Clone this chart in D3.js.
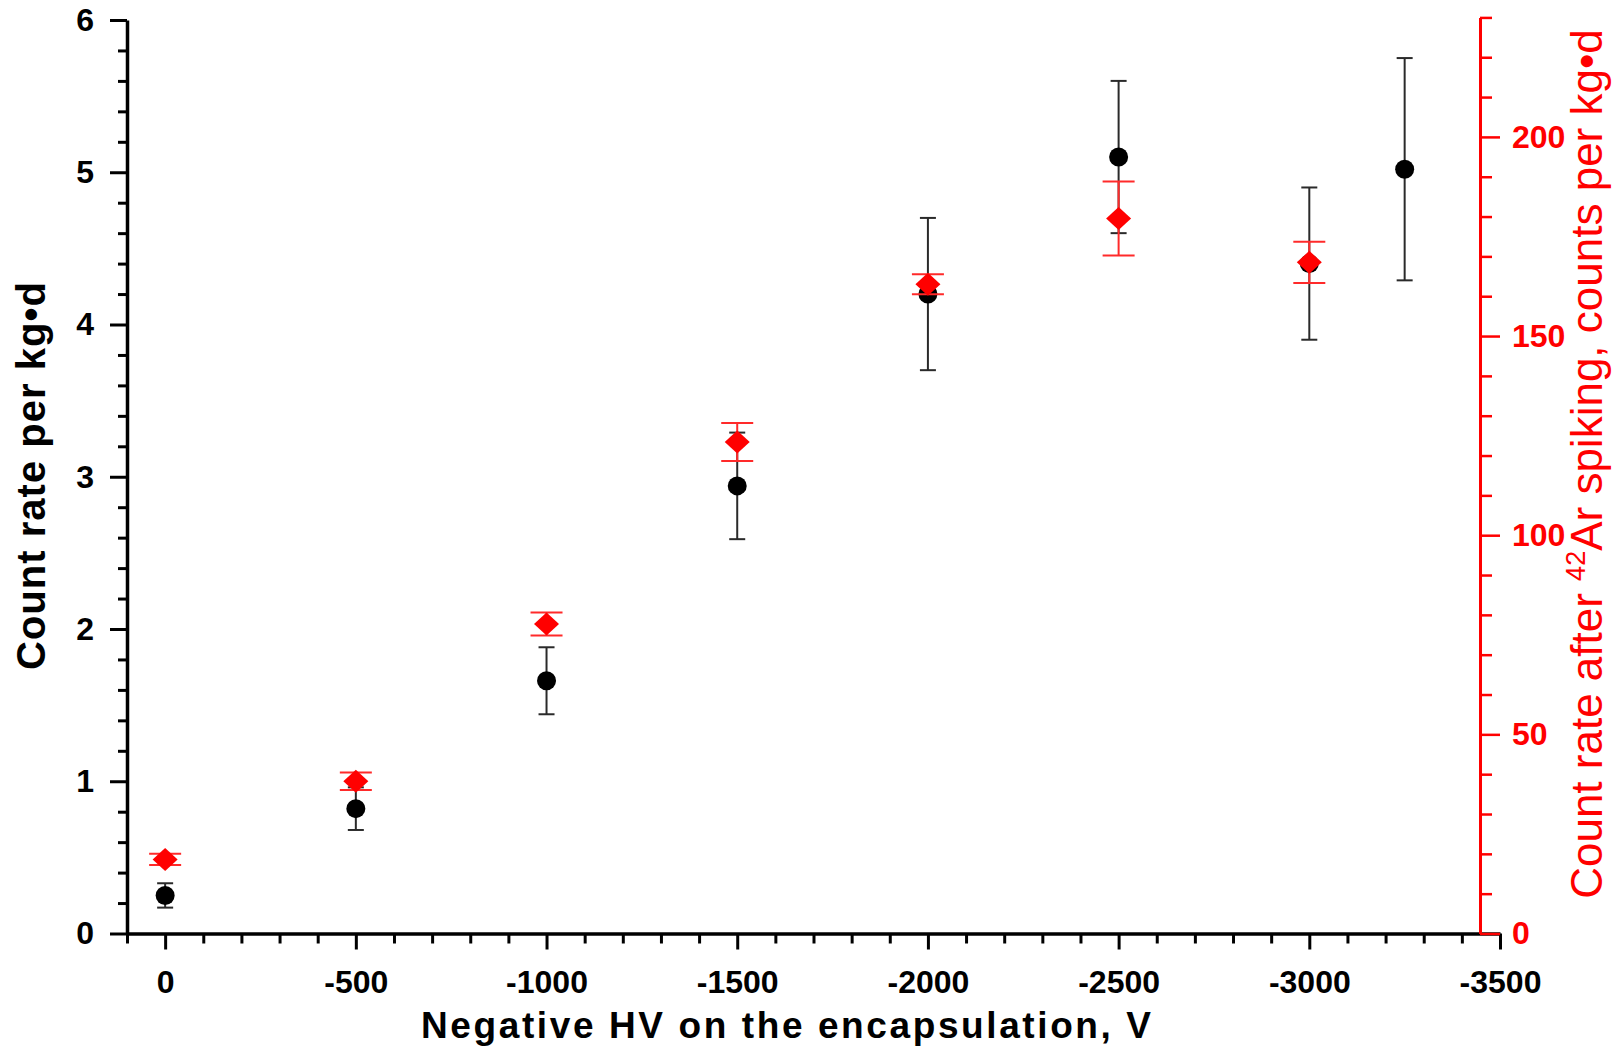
<!DOCTYPE html>
<html>
<head>
<meta charset="utf-8">
<script src="https://cdn.jsdelivr.net/npm/d3@7"></script>
<style>
  html, body { margin: 0; padding: 0; background: #fff; }
  svg { display: block; }
</style>
</head>
<body>
<svg id="chart" width="1621" height="1046"></svg>
<script>
// ---- data ----
const voltages = [0, -500, -1000, -1500, -2000, -2500, -3000, -3250];
const countRate = [0.25, 0.82, 1.66, 2.94, 4.20, 5.10, 4.40, 5.02];
const countRateErr = [0.08, 0.14, 0.22, 0.35, 0.50, 0.50, 0.50, 0.73];

const spikeVoltages = [0, -500, -1000, -1500, -2000, -2500, -3000];
const spikeRate = [18.6, 38.2, 77.7, 123.4, 163.0, 179.5, 168.5];
const spikeRateErr = [1.4, 2.2, 2.9, 4.8, 2.5, 9.3, 5.2];

const xMajorTicks = [0, -500, -1000, -1500, -2000, -2500, -3000, -3500];
const yLeftTicks = [0, 1, 2, 3, 4, 5, 6];
const yRightTicks = [0, 50, 100, 150, 200];

const xTitle = "Negative HV on the encapsulation, V";
const yLeftTitle = "Count rate per kg\u2022d";
const yRightTitleA = "Count rate after ";
const yRightTitleSup = "42";
const yRightTitleB = "Ar spiking, counts per kg\u2022d";

// ---- layout ----
const FONT = "'Liberation Sans', Arial, sans-serif";
const svg = d3.select("#chart");
const xLeft = 127, xRight = 1500, yBottom = 933.5, yTop = 20;
const rightAxisX = 1480;

const x = d3.scaleLinear().domain([100, -3500]).range([xLeft, xRight]);
const y = d3.scaleLinear().domain([0, 6]).range([yBottom, yTop]);
const y2 = d3.scaleLinear().domain([0, 230]).range([yBottom, yBottom - 230 * 3.983]);

// ---- x axis ----
const xMinor = d3.range(100, -3501, -100).filter(v => v % 500 !== 0);
const gxMinor = svg.append("g").attr("transform", `translate(0,${yBottom})`)
  .call(d3.axisBottom(x).tickValues(xMinor).tickSize(10).tickFormat(""));
gxMinor.select(".domain").remove();
gxMinor.selectAll("line").attr("stroke", "#000").attr("stroke-width", 3);

const gx = svg.append("g").attr("transform", `translate(0,${yBottom})`)
  .call(d3.axisBottom(x).tickValues(xMajorTicks).tickSize(16).tickSizeOuter(0).tickPadding(21)
    .tickFormat(d => d === 0 ? "0" : String(d)));
gx.select(".domain").attr("stroke", "#000").attr("stroke-width", 3.5);
gx.selectAll("line").attr("stroke", "#000").attr("stroke-width", 3);
gx.selectAll("text").attr("fill", "#000").style("font-family", FONT)
  .style("font-size", "32px").style("font-weight", "bold");

// ---- left y axis ----
const yMinor = d3.range(0, 6.001, 0.2).filter(v => Math.abs(v - Math.round(v)) > 1e-6);
const gyMinor = svg.append("g").attr("transform", `translate(${xLeft},0)`)
  .call(d3.axisLeft(y).tickValues(yMinor).tickSize(9).tickFormat(""));
gyMinor.select(".domain").remove();
gyMinor.selectAll("line").attr("stroke", "#000").attr("stroke-width", 3);

const gy = svg.append("g").attr("transform", `translate(${xLeft},0)`)
  .call(d3.axisLeft(y).tickValues(yLeftTicks).tickSize(17).tickSizeOuter(0).tickPadding(16)
    .tickFormat(d3.format("d")));
gy.select(".domain").attr("stroke", "#000").attr("stroke-width", 3.5);
gy.selectAll("line").attr("stroke", "#000").attr("stroke-width", 3);
gy.selectAll("text").attr("fill", "#000").style("font-family", FONT)
  .style("font-size", "32px").style("font-weight", "bold");

// ---- right y axis (red) ----
const y2Minor = d3.range(0, 231, 10).filter(v => v % 50 !== 0);
const gy2Minor = svg.append("g").attr("transform", `translate(${rightAxisX},0)`)
  .call(d3.axisRight(y2).tickValues(y2Minor).tickSize(12).tickFormat(""));
gy2Minor.select(".domain").remove();
gy2Minor.selectAll("line").attr("stroke", "#ff0000").attr("stroke-width", 2.5);

const gy2 = svg.append("g").attr("transform", `translate(${rightAxisX},0)`)
  .call(d3.axisRight(y2).tickValues(yRightTicks).tickSize(20).tickSizeOuter(0).tickPadding(12)
    .tickFormat(d3.format("d")));
gy2.select(".domain").attr("stroke", "#ff0000").attr("stroke-width", 3);
gy2.selectAll("line").attr("stroke", "#ff0000").attr("stroke-width", 2.5);
gy2.selectAll("text").attr("fill", "#ff0000").style("font-family", FONT)
  .style("font-size", "32px").style("font-weight", "bold");

// ---- black series: error bars then circles ----
const black = voltages.map((v, i) => ({ v, val: countRate[i], err: countRateErr[i] }));
const gb = svg.append("g").attr("stroke", "#2a2a2a").attr("stroke-width", 2);
black.forEach(d => {
  const cx = x(d.v), y1 = y(d.val + d.err), y0 = y(d.val - d.err);
  gb.append("line").attr("x1", cx).attr("x2", cx).attr("y1", y1).attr("y2", y0);
  gb.append("line").attr("x1", cx - 8).attr("x2", cx + 8).attr("y1", y1).attr("y2", y1);
  gb.append("line").attr("x1", cx - 8).attr("x2", cx + 8).attr("y1", y0).attr("y2", y0);
});
svg.append("g").selectAll("circle").data(black).join("circle")
  .attr("cx", d => x(d.v)).attr("cy", d => y(d.val)).attr("r", 9.5).attr("fill", "#000");

// ---- red series: error bars then diamonds ----
const red = spikeVoltages.map((v, i) => ({ v, val: spikeRate[i], err: spikeRateErr[i] }));
const gr = svg.append("g").attr("stroke", "#ff2a2a").attr("stroke-width", 2);
red.forEach(d => {
  const cx = x(d.v), y1 = y2(d.val + d.err), y0 = y2(d.val - d.err);
  gr.append("line").attr("x1", cx).attr("x2", cx).attr("y1", y1).attr("y2", y0);
  gr.append("line").attr("x1", cx - 16).attr("x2", cx + 16).attr("y1", y1).attr("y2", y1);
  gr.append("line").attr("x1", cx - 16).attr("x2", cx + 16).attr("y1", y0).attr("y2", y0);
});
svg.append("g").selectAll("path").data(red).join("path")
  .attr("d", d => {
    const cx = x(d.v), cy = y2(d.val);
    return `M${cx},${cy - 11.5}L${cx + 12.5},${cy}L${cx},${cy + 11.5}L${cx - 12.5},${cy}Z`;
  })
  .attr("fill", "#ff0000");

// ---- titles ----
svg.append("text")
  .attr("x", 786).attr("y", 1038)
  .attr("text-anchor", "middle")
  .attr("textLength", 730).attr("lengthAdjust", "spacing")
  .style("font-family", FONT).style("font-size", "37px").style("font-weight", "bold")
  .attr("fill", "#000")
  .text(xTitle);

svg.append("text")
  .attr("transform", "translate(45,476) rotate(-90)")
  .attr("text-anchor", "middle")
  .attr("textLength", 388).attr("lengthAdjust", "spacing")
  .style("font-family", FONT).style("font-size", "40px").style("font-weight", "bold")
  .attr("fill", "#000")
  .text(yLeftTitle);

const rt = svg.append("text")
  .attr("transform", "translate(1602,464) rotate(-90)")
  .attr("text-anchor", "middle")
  .style("font-family", FONT).style("font-size", "44px")
  .attr("fill", "#ff0000");
rt.append("tspan").text(yRightTitleA);
rt.append("tspan").attr("dy", -17).style("font-size", "27px").text(yRightTitleSup);
rt.append("tspan").attr("dy", 17).text(yRightTitleB);
</script>
</body>
</html>
